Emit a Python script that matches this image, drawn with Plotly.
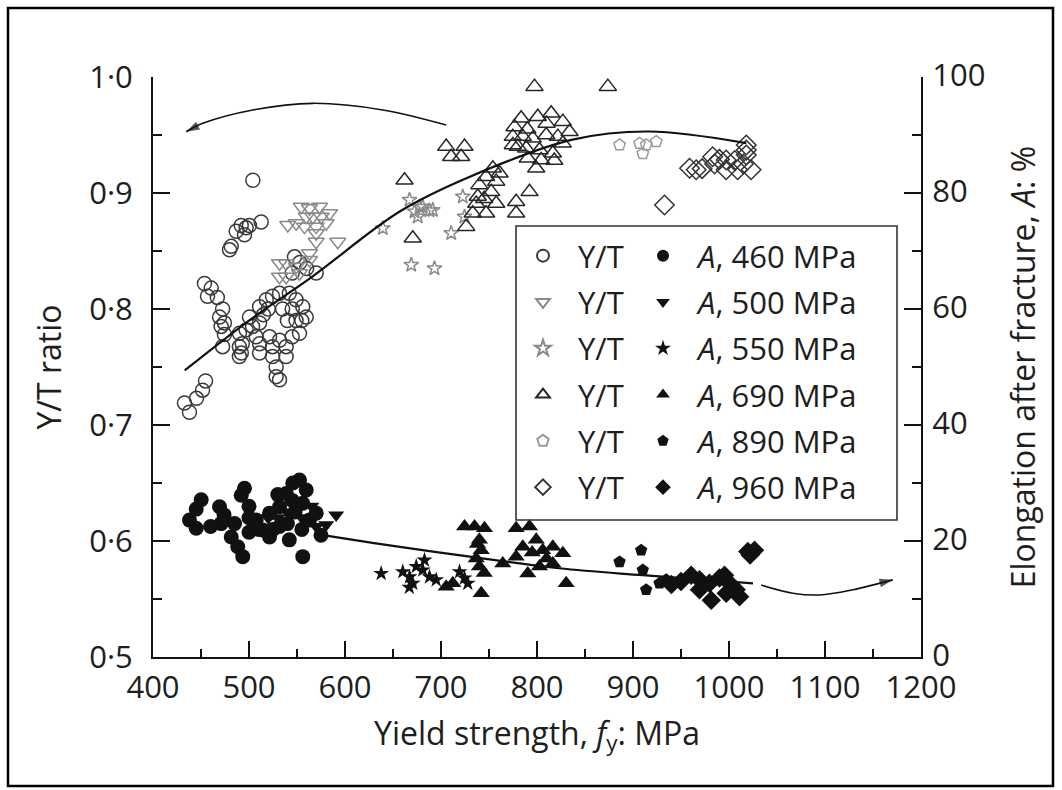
import plotly.graph_objects as go

# ---------------- data ----------------
# Y/T ratio (left axis), open markers
yt460_x = [504, 512.7, 500.5, 491.9, 486.7, 495.3, 481.5, 479.7, 497,
           547.4, 570, 545, 553, 560,
           453.6, 460.6, 456.8, 467, 472.5, 469.3, 474.4, 471, 490, 474.4, 472.5, 490, 492,
           500.5, 511, 518, 524.5, 531.8, 542, 549, 556, 559.6, 549, 511, 503.7, 497, 507.5,
           521.4, 531.8, 545, 552.6, 493, 511, 524.5, 538.7, 490, 511, 524.5, 538.7, 528.3,
           528.3, 531.8, 520, 535, 515, 540, 555, 545,
           432.8, 438, 445.3, 451.6, 454.7]
yt460_y = [0.911, 0.875, 0.872, 0.872, 0.867, 0.864, 0.854, 0.851, 0.870,
           0.845, 0.831, 0.831, 0.840, 0.835,
           0.822, 0.818, 0.811, 0.810, 0.800, 0.793, 0.788, 0.785, 0.779, 0.778, 0.7675, 0.7675, 0.762,
           0.793, 0.802, 0.808, 0.811, 0.8135, 0.8135, 0.808, 0.802, 0.793, 0.790, 0.788, 0.785, 0.782, 0.776,
           0.776, 0.773, 0.776, 0.779, 0.770, 0.770, 0.7675, 0.7675, 0.759, 0.762, 0.759, 0.759, 0.750,
           0.7417, 0.739, 0.800, 0.800, 0.795, 0.790, 0.790, 0.800,
           0.719, 0.711, 0.723, 0.730, 0.738]

yt500_x = [554.4, 563, 573.4, 583.9, 559.6, 566.5, 575.2, 540.4, 549.2, 557.8, 570, 580.4,
           570, 570, 592.5, 531.8, 538.7, 549.2, 563, 531.8, 538.7, 552.6, 563]
yt500_y = [0.8882, 0.8868, 0.8882, 0.8825, 0.8796, 0.8796, 0.8796, 0.8724, 0.8739, 0.871, 0.871, 0.8739,
           0.8653, 0.858, 0.858, 0.8394, 0.8394, 0.8365, 0.848, 0.8278, 0.8278, 0.8308, 0.8422]

yt550_x = [639.4, 667.2, 681, 691.5, 675.8, 672.4, 669, 693.2, 710.6, 722.7, 724.5, 677.6, 688]
yt550_y = [0.8696, 0.894, 0.8882, 0.8853, 0.8796, 0.884, 0.838, 0.835, 0.8653, 0.8968, 0.8796, 0.888, 0.885]

yt690_x = [797.4, 873.8, 705.4, 724.5, 710.6, 721, 662, 670.6, 783.5, 800.8, 814.8, 776.6, 826.9,
           833.9, 774.8, 785.2, 795.6, 809.6, 821.7, 774.8, 788.8, 802.6, 816.5, 826.9, 790.4,
           804.4, 818, 799.2, 754, 761, 747, 740, 757.5, 752.3, 738.3, 757.5, 736.7, 778.3,
           792.2, 778.3, 747, 733, 726.3, 745, 790, 810, 780]
yt690_y = [0.9917, 0.9917, 0.940, 0.940, 0.9313, 0.9313, 0.911, 0.861, 0.9644, 0.9658, 0.9687, 0.957, 0.9615,
           0.9528, 0.9486, 0.9486, 0.9471, 0.950, 0.9486, 0.9414, 0.9385, 0.937, 0.9342, 0.9428, 0.930,
           0.9284, 0.928, 0.9213, 0.9213, 0.917, 0.914, 0.907, 0.910, 0.901, 0.897, 0.891, 0.891, 0.8925,
           0.901, 0.8825, 0.8825, 0.8825, 0.871, 0.895, 0.955, 0.960, 0.940]

yt890_x = [886, 906.8, 913.7, 924.2, 910.2]
yt890_y = [0.9414, 0.9428, 0.9414, 0.9443, 0.934]

yt960_x = [1018, 958.9, 965.8, 972, 983, 990, 997, 1006, 1018, 997, 1009, 1023, 1018, 932.8, 985, 1015]
yt960_y = [0.9414, 0.9213, 0.920, 0.921, 0.9313, 0.929, 0.9284, 0.928, 0.9328, 0.920, 0.920, 0.920,
           0.937, 0.8897, 0.925, 0.925]

# Elongation after fracture A (%) (right axis), filled markers
a460_x = [450.2, 438, 445, 469.3, 474, 471, 481.5, 488.3, 493.5, 495.3, 491.9, 500, 507.5, 514.4,
          531.8, 545.6, 552.6, 559.6, 538.7, 531.8, 548, 521.4, 556, 563, 570, 542, 556, 521.4,
          510, 500, 525, 540, 485, 460, 445, 555, 575, 500, 530, 545]
a460_y = [27.1, 23.6, 22.2, 25.9, 24.5, 23.0, 20.7, 19.0, 17.3, 29.1, 27.9, 26.0, 23.6, 21.9,
          22.5, 30.0, 30.5, 28.8, 28.2, 25.9, 25.0, 24.8, 26.5, 23.6, 24.8, 20.2, 17.3, 20.7,
          22.0, 21.5, 22.0, 23.0, 23.0, 22.5, 25.5, 22.0, 21.0, 24.0, 28.0, 27.0]

a500_x = [590.8, 580.4, 570, 565, 555, 540, 530, 520]
a500_y = [24.5, 22.8, 22.5, 26.0, 24.0, 25.0, 24.0, 24.0]

a550_x = [637.7, 660.2, 667.2, 674.2, 682.8, 681, 670.6, 688, 695, 719.3, 724.5, 727.9, 667]
a550_y = [14.4, 14.7, 13.8, 15.6, 16.7, 15.0, 12.7, 13.8, 13.3, 14.7, 13.6, 12.7, 12.0]

a690_x = [724.5, 734.9, 745.3, 740, 741.9, 736.7, 740, 741.9, 705.4, 712.3, 778.3, 792.2, 799.2,
          785.2, 778.3, 806, 816.5, 826.9, 790.4, 802.6, 816.5, 830.4, 764.4, 795, 810, 738, 745]
a690_y = [22.5, 22.5, 22.2, 20.2, 18.4, 17.0, 15.6, 11.0, 12.1, 12.7, 22.2, 22.5, 20.2,
          19.0, 17.3, 18.4, 19.0, 17.9, 14.4, 15.6, 16.1, 12.7, 16.1, 18.0, 17.0, 19.5, 14.5]

a890_x = [908.5, 886, 910.2, 913.7, 927.6, 934.6]
a890_y = [18.4, 16.4, 15.0, 11.6, 12.7, 13.3]

a960_x = [1019.6, 1026.6, 1022, 960.6, 969.3, 979.7, 990.1, 995.3, 981.5, 997.1, 1007.5, 1011,
          1000.5, 969.3, 940, 950]
a960_y = [18.2, 18.4, 17.6, 14.1, 13.3, 12.7, 13.6, 14.1, 9.8, 11.0, 11.6, 10.4,
          12.7, 11.6, 12.5, 13.0]

# fitted trend curves
fit_yt_x = [433, 500, 566, 657, 730, 837, 917, 1018]
fit_yt_y = [0.747, 0.790, 0.828, 0.884, 0.914, 0.946, 0.953, 0.943]
fit_a_x = [577, 632, 730, 823, 910, 1025]
fit_a_y = [21.0, 19.6, 17.3, 15.3, 14.1, 12.7]

# guide arrows
arrow_top_x = [705.4, 639.4, 566.5, 504, 451.9, 434.6]
arrow_top_y = [0.9586, 0.9716, 0.9773, 0.9716, 0.9601, 0.9528]
arrow_bot_x = [1033.5, 1066.5, 1094.3, 1129, 1170.6]
arrow_bot_y = [12.4, 11.0, 10.7, 11.6, 13.3]

labels = ["460", "500", "550", "690", "890", "960"]
x_ticks = [400, 500, 600, 700, 800, 900, 1000, 1100, 1200]
x_minor = [450, 550, 650, 750, 850, 950, 1050, 1150]
yl_ticks = [0.5, 0.6, 0.7, 0.8, 0.9, 1.0]
yl_text = ["0·5", "0·6", "0·7", "0·8", "0·9", "1·0"]
yl_minor = [0.55, 0.65, 0.75, 0.85, 0.95]
yr_ticks = [0, 20, 40, 60, 80, 100]
yr_minor = [10, 30, 50, 70, 90]

# ---------------- figure ----------------
FONT = "Open Sans"
TXT = "#1e1e1e"
W, H = 1062, 790
L, R, T, B = 153, 141, 77, 133
PW, PH = W - L - R, H - T - B


def px2paper(px, py):
    return (px - L) / PW, (H - B - py) / PH


fig = go.Figure()

yt_sets = [
    (yt460_x, yt460_y, "circle-open", "#3a3a3a", 14),
    (yt500_x, yt500_y, "triangle-down-open", "#8a8a8a", 14),
    (yt550_x, yt550_y, "star-open", "#8a8a8a", 11),
    (yt690_x, yt690_y, "triangle-up-open", "#262626", 15),
    (yt890_x, yt890_y, "pentagon-open", "#9a9a9a", 12),
    (yt960_x, yt960_y, "diamond-open", "#333333", 15),
]
a_sets = [
    (a460_x, a460_y, "circle", 15),
    (a500_x, a500_y, "triangle-down", 14),
    (a550_x, a550_y, "star", 12),
    (a690_x, a690_y, "triangle-up", 15),
    (a890_x, a890_y, "pentagon", 13),
    (a960_x, a960_y, "diamond", 15),
]

for i, ((xs, ys, sym, col, sz), lab) in enumerate(zip(yt_sets, labels)):
    fig.add_trace(go.Scatter(
        x=xs, y=ys, mode="markers", name="Y/T", legend="legend", legendgroup="yt%d" % i,
        marker=dict(symbol=sym, size=sz, color=col, line=dict(color=col, width=1.5)),
        yaxis="y", showlegend=True))

for i, ((xs, ys, sym, sz), lab) in enumerate(zip(a_sets, labels)):
    fig.add_trace(go.Scatter(
        x=xs, y=ys, mode="markers", name="<i>A</i>, %s MPa" % lab, legend="legend2",
        legendgroup="a%d" % i,
        marker=dict(symbol=sym, size=sz, color="#111111", line=dict(width=0)),
        yaxis="y2", showlegend=True))

# trend curves
fig.add_trace(go.Scatter(x=fit_yt_x, y=fit_yt_y, mode="lines", line=dict(color="#111", width=2.2, shape="spline"),
                         yaxis="y", showlegend=False, hoverinfo="skip"))
fig.add_trace(go.Scatter(x=fit_a_x, y=fit_a_y, mode="lines", line=dict(color="#111", width=2.2, shape="spline"),
                         yaxis="y2", showlegend=False, hoverinfo="skip"))

# arrows
for ax_x, ax_y, yax in [(arrow_top_x, arrow_top_y, "y"), (arrow_bot_x, arrow_bot_y, "y2")]:
    n = len(ax_x)
    fig.add_trace(go.Scatter(
        x=ax_x, y=ax_y, mode="lines+markers", yaxis=yax, showlegend=False, hoverinfo="skip",
        line=dict(color="#111", width=1.6, shape="spline"),
        marker=dict(symbol="arrow", angleref="previous", size=[0] * (n - 1) + [14],
                    color="#111", line=dict(width=0))))

axis_common = dict(showgrid=False, zeroline=False, showline=True, linecolor="#111", linewidth=2,
                   ticks="inside", tickcolor="#111", tickwidth=2,
                   tickfont=dict(family=FONT, size=31, color=TXT))

fig.update_layout(
    width=W, height=H, autosize=False,
    margin=dict(l=L, r=R, t=T, b=B, pad=0),
    paper_bgcolor="white", plot_bgcolor="white",
    font=dict(family=FONT, size=31, color=TXT),
    xaxis=dict(range=[400, 1200], tickmode="array", tickvals=x_ticks, ticktext=[str(v) for v in x_ticks],
               ticklen=16, minor=dict(tickvals=x_minor, ticks="inside", ticklen=8, tickwidth=2, tickcolor="#111"),
               ticklabelstandoff=2,
               title=dict(text="Yield strength, <i>f</i><sub>y</sub>: MPa", standoff=16,
                          font=dict(family=FONT, size=32, color=TXT)),
               automargin=False, **axis_common),
    yaxis=dict(range=[0.5, 1.0], tickmode="array", tickvals=yl_ticks, ticktext=yl_text,
               ticklen=17, minor=dict(tickvals=yl_minor, ticks="inside", ticklen=9, tickwidth=2, tickcolor="#111"),
               ticklabelstandoff=12,
               title=dict(text="Y/T ratio", standoff=18, font=dict(family=FONT, size=32, color=TXT)),
               automargin=False, **axis_common),
    yaxis2=dict(range=[0, 100], overlaying="y", side="right", tickmode="array", tickvals=yr_ticks,
                ticktext=[str(v) for v in yr_ticks],
                ticklen=17, minor=dict(tickvals=yr_minor, ticks="inside", ticklen=9, tickwidth=2, tickcolor="#111"),
                ticklabelstandoff=3, ticklabelshift=-2,
                title=dict(text="Elongation after fracture, <i>A</i>: %", standoff=28,
                           font=dict(family=FONT, size=32, color=TXT)),
                automargin=False, **axis_common),
    legend=dict(x=px2paper(508, 0)[0], y=px2paper(0, 229)[1], xanchor="left", yanchor="top",
                bgcolor="rgba(0,0,0,0)", borderwidth=0, itemsizing="constant", itemwidth=60,
                font=dict(family=FONT, size=31, color=TXT), tracegroupgap=3),
    legend2=dict(x=px2paper(628, 0)[0], y=px2paper(0, 229)[1], xanchor="left", yanchor="top",
                 bgcolor="rgba(0,0,0,0)", borderwidth=0, itemsizing="constant", itemwidth=60,
                 font=dict(family=FONT, size=31, color=TXT), tracegroupgap=3),
    shapes=[
        # legend frame
        dict(type="rect", xref="paper", yref="paper",
             x0=px2paper(516, 0)[0], x1=px2paper(897, 0)[0], y0=px2paper(0, 520)[1], y1=px2paper(0, 226)[1],
             line=dict(color="#333", width=1.6), fillcolor="rgba(0,0,0,0)", layer="above"),
        # outer picture frame
        dict(type="rect", xref="paper", yref="paper",
             x0=px2paper(8, 0)[0], x1=px2paper(1053, 0)[0], y0=px2paper(0, 786)[1], y1=px2paper(0, 8)[1],
             line=dict(color="#000", width=2.5), fillcolor="rgba(0,0,0,0)", layer="above"),
    ],
)

fig.write_html("out.html")
